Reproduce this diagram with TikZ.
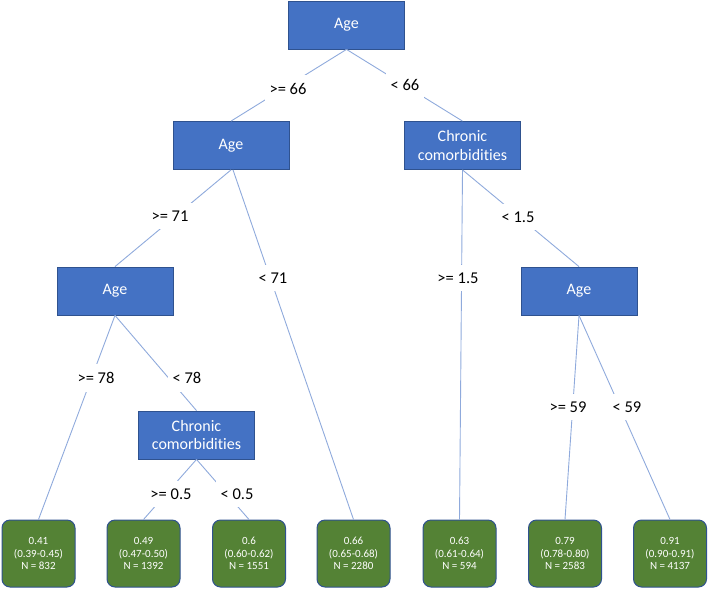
\documentclass[tikz,border=0pt]{standalone}
\usepackage{fontspec}
\setmainfont{Carlito}[Ligatures=NoCommon]
\definecolor{boxblue}{HTML}{4472C4}
\definecolor{boxedge}{HTML}{2F528F}
\definecolor{leafgreen}{HTML}{548235}
\definecolor{linkblue}{HTML}{8FAADC}
\begin{document}
\begin{tikzpicture}[x=1pt,y=-1pt,
  splitbox/.style={draw=boxedge, fill=boxblue, line width=0.8pt, text=white,
    font=\fontsize{16}{18.5}\selectfont, minimum width=116pt, minimum height=48pt,
    align=center, inner sep=0pt},
  leafbox/.style={draw=boxedge, fill=leafgreen, line width=1pt, rounded corners=8pt,
    text=white, font=\fontsize{11}{12.5}\selectfont, minimum width=73pt,
    minimum height=67pt, align=center, inner sep=0pt},
  link/.style={draw=linkblue, line width=0.9pt},
  cond/.style={fill=white, inner xsep=5pt, inner ysep=8pt,
    font=\fontsize{16.5}{18}\selectfont, text=black}]
\useasboundingbox (0,0) rectangle (708,589);
% split nodes
\node[splitbox] (root) at (346.5,25) {Age};
\node[splitbox] (age2) at (231,145.5) {Age};
\node[splitbox] (chr2) at (462.5,145.5) {Chronic\\comorbidities};
\node[splitbox] (age3) at (115,291) {Age};
\node[splitbox] (age4) at (579,291) {Age};
\node[splitbox] (chr3) at (196.5,435) {Chronic\\comorbidities};
% leaves
\node[leafbox] (lf1) at (38.5,553.5) {0.41\\(0.39-0.45)\\N = 832};
\node[leafbox] (lf2) at (143.5,553.5) {0.49\\(0.47-0.50)\\N = 1392};
\node[leafbox] (lf3) at (249,553.5) {0.6\\(0.60-0.62)\\N = 1551};
\node[leafbox] (lf4) at (353.5,553.5) {0.66\\(0.65-0.68)\\N = 2280};
\node[leafbox] (lf5) at (459.5,553.5) {0.63\\(0.61-0.64)\\N = 594};
\node[leafbox] (lf6) at (565,553.5) {0.79\\(0.78-0.80)\\N = 2583};
\node[leafbox] (lf7) at (670,553.5) {0.91\\(0.90-0.91)\\N = 4137};
% connectors
\draw[link] (root.south) -- (age2.north);
\draw[link] (root.south) -- (chr2.north);
\draw[link] (age2.south) -- (age3.north);
\draw[link] ([xshift=2pt]age2.south) -- (lf4.north);
\draw[link] (chr2.south) -- (lf5.north);
\draw[link] (chr2.south) -- (age4.north);
\draw[link] (age3.south) -- (lf1.north);
\draw[link] (age3.south) -- (chr3.north);
\draw[link] (chr3.south) -- (lf2.north);
\draw[link] (chr3.south) -- (lf3.north);
\draw[link] (age4.south) -- (lf6.north);
\draw[link] (age4.south) -- (lf7.north);
% condition labels
\node[cond] (c1) at (288,89) {>= 66};
\node[cond] (c2) at (405,85) {< 66};
\node[cond] (c3) at (170,216) {>= 71};
\node[cond] (c4) at (273,278) {< 71};
\node[cond] (c5) at (458,278) {>= 1.5};
\node[cond] (c6) at (518,217) {< 1.5};
\node[cond] (c7) at (96,378) {>= 78};
\node[cond] (c8) at (187,378) {< 78};
\node[cond] (c9) at (171,494) {>= 0.5};
\node[cond] (c10) at (237,494) {< 0.5};
\node[cond] (c11) at (568,407) {>= 59};
\node[cond] (c12) at (627,407) {< 59};
\end{tikzpicture}
\end{document}
